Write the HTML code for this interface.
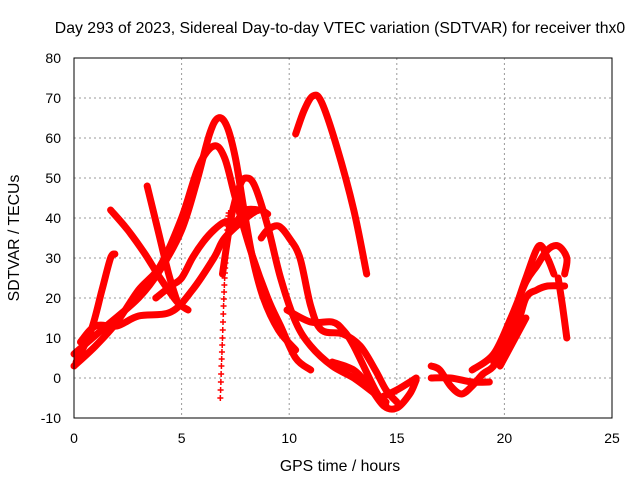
<!DOCTYPE html>
<html><head><meta charset="utf-8"><style>
body{margin:0;background:#fff}
svg{display:block;font-family:"Liberation Sans",sans-serif;font-size:14px}
.big{font-size:15.8px}
</style></head><body>
<svg id="c" width="640" height="480">
<text class="big" x="340" y="33" text-anchor="middle">Day 293 of 2023, Sidereal Day-to-day VTEC variation (SDTVAR) for receiver thx0</text>
<text class="big" x="340" y="471" text-anchor="middle">GPS time / hours</text>
<text class="big" transform="translate(19,238) rotate(-90)" text-anchor="middle">SDTVAR / TECUs</text>
<g id="grid"></g><g id="ticks"></g><g id="series"></g>
<rect x="74" y="58" width="538" height="360" fill="none" stroke="#000" stroke-width="1"/>
</svg>
<script>
const xTicks=[0,5,10,15,20,25];
const yTicks=[-10,0,10,20,30,40,50,60,70,80];
const tracks=[
[[0.1,4],[0.8,12],[1.3,22],[1.7,30],[1.9,31]],
[[1.7,42],[2.5,37],[3.3,31],[4,25],[4.8,19],[5.3,17]],
[[3.4,48],[3.9,37],[4.4,26],[4.8,19]],
[[0,6],[1.5,13],[3,20],[4,27],[5,37],[5.7,49],[6.3,61],[6.7,65],[7.1,63],[7.5,55],[7.9,42],[8.3,30],[8.8,20],[9.5,12],[10.3,7]],
[[0,3],[1,8],[2,14],[3,22],[4,28],[5,40],[5.8,53],[6.5,58],[7,55],[7.5,45],[8.2,32],[9,20],[9.6,13],[10.3,5],[11,2]],
[[6.9,26],[7.3,40],[7.7,48],[8,50],[8.4,48],[9,38],[9.6,25],[10.3,14],[11,8],[12,3],[13,0],[14,-4],[14.5,-6]],
[[0.3,9],[1,13],[2,13],[3,15.5],[4.5,16.5],[5.5,22],[6.5,30],[7,35],[8,40],[8.6,42],[9,41]],
[[8.7,35],[9,37],[9.5,38],[10,35],[10.5,30],[11,18],[11.5,12],[12.5,11],[13.3,8],[14,2],[14.5,-3],[15,-6]],
[[3.8,20],[4.5,23],[5,25],[5.5,30],[6,34],[6.5,37],[7,39],[7.5,39],[8,42],[8.6,42]],
[[10.3,61],[10.7,67],[11.1,70.5],[11.5,69],[12.2,58],[13,42],[13.6,26]],
[[9.9,17],[11,14],[12,14],[12.5,12],[13,8],[14,-3],[14.5,-7]],
[[12,4],[13,2],[13.7,-2],[14.4,-7],[15,-7.5],[15.6,-4],[15.9,-0.5]],
[[14.2,-5],[15,-3],[15.9,0]],
[[16.6,3],[17,2],[17.5,-2],[18,-4],[18.5,-2],[19,1],[19.5,3],[20,8],[20.5,17],[21,25],[21.6,33],[22,30],[22.3,26]],
[[16.6,0],[17.5,0],[18.5,-1],[19.3,-1]],
[[18.5,2],[19.5,6],[20.3,15],[21,24],[21.5,28],[22,32],[22.5,33],[22.9,30],[22.8,26]],
[[19.5,4],[20.5,12],[21,20],[21.5,22],[22,23],[22.8,23]],
[[22.5,25],[22.7,18],[22.9,10]],
[[19.8,3],[20.5,10],[21,15]]
];
const dotTrack=[[6.8,-5],[6.85,3],[6.9,10],[6.95,18],[7,25],[7.05,30],[7.1,35],[7.15,39],[7.2,42]];
const X=v=>74+v*21.52, Y=v=>58+(80-v)*4;
const NS='http://www.w3.org/2000/svg';
const g=document.getElementById('grid'),t=document.getElementById('ticks'),s=document.getElementById('series');
function mk(tag,a,p){const e=document.createElementNS(NS,tag);for(const k in a)e.setAttribute(k,a[k]);p.appendChild(e);return e;}
function smooth(pts){
 let d='M'+pts[0][0]+','+pts[0][1];
 for(let i=0;i<pts.length-1;i++){
  const p0=pts[Math.max(i-1,0)],p1=pts[i],p2=pts[i+1],p3=pts[Math.min(i+2,pts.length-1)];
  const c1=[p1[0]+(p2[0]-p0[0])/6,p1[1]+(p2[1]-p0[1])/6],c2=[p2[0]-(p3[0]-p1[0])/6,p2[1]-(p3[1]-p1[1])/6];
  d+=`C${c1[0]},${c1[1]} ${c2[0]},${c2[1]} ${p2[0]},${p2[1]}`;
 }
 return d;
}
xTicks.forEach(v=>{
 if(v>0&&v<25){const l=mk('line',{x1:X(v),x2:X(v),y1:58,y2:418,stroke:'#999','stroke-dasharray':'2,3'},g);
 
 }
 const tx=mk('text',{x:X(v),y:443,'text-anchor':'middle'},t);tx.textContent=v;
 
 
});
yTicks.forEach(v=>{
 if(v>-10&&v<80){const l=mk('line',{x1:74,x2:612,y1:Y(v),y2:Y(v),stroke:'#999','stroke-dasharray':'2,3'},g);
 
 }
 const tx=mk('text',{x:61,y:Y(v)+5,'text-anchor':'end'},t);tx.textContent=v;
 
 
});
tracks.forEach(tr=>{
 const p=mk('path',{d:smooth(tr.map(d=>[X(d[0]),Y(d[1])])),fill:'none',stroke:'#f00','stroke-width':7,'stroke-linejoin':'round','stroke-linecap':'round'},s);
 
 
});
for(let i=0;i<dotTrack.length-1;i++){
 for(let k=0;k<4;k++){
  const f=k/4,x=X(dotTrack[i][0]+(dotTrack[i+1][0]-dotTrack[i][0])*f),y=Y(dotTrack[i][1]+(dotTrack[i+1][1]-dotTrack[i][1])*f);
  const m=mk('path',{d:`M${x-3},${y}h6M${x},${y-3}v6`,stroke:'#f00','stroke-width':1.5},s);
  
  
 }
}
</script>
</body></html>
